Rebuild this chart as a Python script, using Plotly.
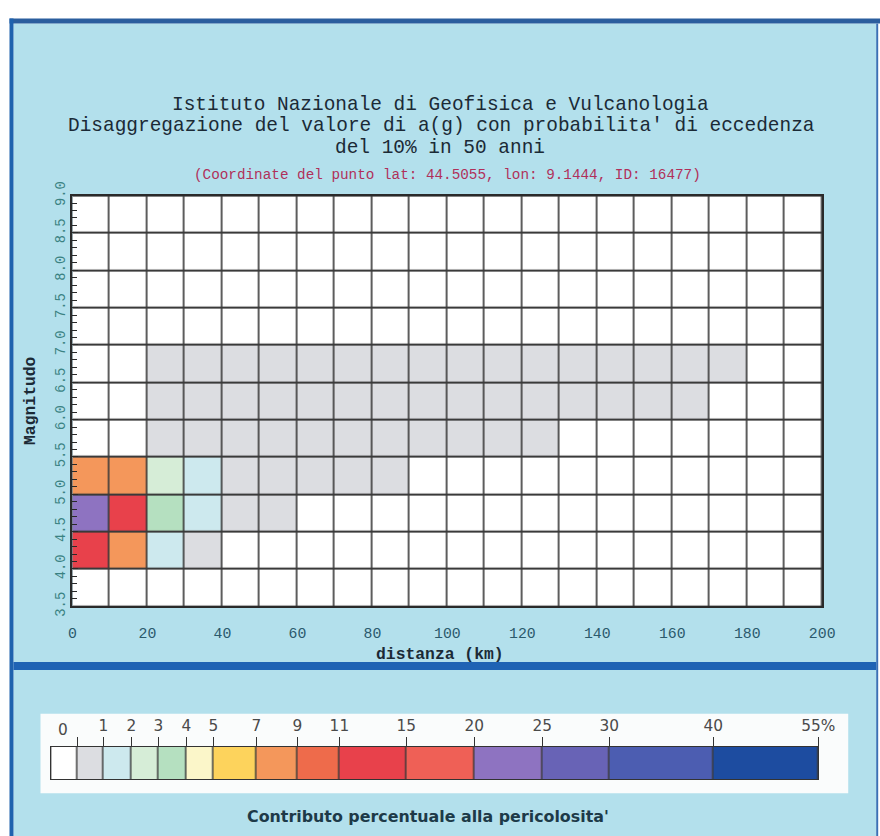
import plotly.graph_objects as go

# ---- data -------------------------------------------------------------
# distance bins (km) and magnitude bins: cell centres
distance_km = [5, 15, 25, 35, 45, 55, 65, 75, 85, 95,
               105, 115, 125, 135, 145, 155, 165, 175, 185, 195]
magnitude = [3.75, 4.25, 4.75, 5.25, 5.75, 6.25, 6.75, 7.25, 7.75, 8.25, 8.75]

# percentage contribution to the hazard, one row per magnitude bin
contrib_m375 = [0] * 20
contrib_m425 = [14.6, 8.2, 1.6, 0.5] + [0] * 16
contrib_m475 = [21.3, 12.9, 3.4, 1.3, 0.4, 0.2] + [0] * 14
contrib_m525 = [8.6, 7.9, 2.3, 1.1, 0.7, 0.5, 0.3, 0.2, 0.1] + [0] * 11
contrib_m575 = [0, 0, 0.8, 0.6, 0.5, 0.4, 0.3, 0.25, 0.2, 0.15, 0.1, 0.1, 0.05] + [0] * 7
contrib_m625 = [0, 0, 0.9, 0.8, 0.7, 0.6, 0.5, 0.45, 0.4, 0.35, 0.3, 0.25, 0.2,
                0.15, 0.1, 0.1, 0.05, 0, 0, 0]
contrib_m675 = [0, 0, 0.7, 0.6, 0.6, 0.5, 0.45, 0.4, 0.35, 0.3, 0.3, 0.25, 0.2,
                0.2, 0.15, 0.1, 0.1, 0.05, 0, 0]
contrib_m725 = [0] * 20
contrib_m775 = [0] * 20
contrib_m825 = [0] * 20
contrib_m875 = [0] * 20

contribution = [contrib_m375, contrib_m425, contrib_m475, contrib_m525,
                contrib_m575, contrib_m625, contrib_m675, contrib_m725,
                contrib_m775, contrib_m825, contrib_m875]

x_ticks = [0, 20, 40, 60, 80, 100, 120, 140, 160, 180, 200]
y_ticks = [3.5, 4.0, 4.5, 5.0, 5.5, 6.0, 6.5, 7.0, 7.5, 8.0, 8.5, 9.0]

# colour classes of the contribution (%)
bin_edges = [0, 1, 2, 3, 4, 5, 7, 9, 11, 15, 20, 25, 30, 40, 55]
bin_colors = ["#dcdde1", "#cde9ee", "#d6edd7", "#b5e0c0", "#fbf6c9",
              "#fdd35c", "#f4975b", "#ee6b4b", "#e8414b", "#ef6056",
              "#8e73c1", "#6863b6", "#4c5db1", "#1d4ca0"]
zero_color = "#ffffff"

# ---- styling -----------------------------------------------------------
# positions below are given on an 880x836 design grid; GRID_SCALE and
# GRID_OFFSET convert them to figure pixels
W, H = 900, 846
GRID_SCALE = 0.977
GRID_OFFSET_X, GRID_OFFSET_Y = 3.5, 11.4
FONT_MONO = "Liberation Mono"
FONT_SANS = "DejaVu Sans"
# drawn widths of the legend classes: "0", 0-1, 1-2, ... 40-55
legend_widths = [26, 26, 28, 27, 28, 27, 43, 41, 42, 67, 68, 68, 67, 104, 105]


def fx(px):
    """design-grid column -> paper x"""
    return ((px - GRID_OFFSET_X) / GRID_SCALE) / W


def fy(py):
    """design-grid row -> paper y"""
    return 1 - ((py - GRID_OFFSET_Y) / GRID_SCALE) / H


def fs(size):
    """design-grid length -> figure pixels"""
    return size / GRID_SCALE


zmax = bin_edges[-1]
eps = 1e-4
colorscale = [[0, zero_color], [eps, zero_color]]
for i, c in enumerate(bin_colors):
    lo = bin_edges[i] / zmax if i > 0 else eps
    hi = bin_edges[i + 1] / zmax
    colorscale += [[lo, c], [hi, c]]

fig = go.Figure()

fig.add_trace(go.Heatmap(
    x=distance_km, y=magnitude, z=contribution,
    colorscale=colorscale, zmin=0, zmax=zmax, showscale=False,
    xgap=fs(1.6), ygap=fs(2), hoverinfo="skip",
    xaxis="x", yaxis="y",
))

# legend bar drawn with the same colour scale
legend_vals = [0] + [(bin_edges[i] + bin_edges[i + 1]) / 2 for i in range(len(bin_edges) - 1)]
legend_x = [0]
for w in legend_widths:
    legend_x.append(legend_x[-1] + w)

fig.add_trace(go.Heatmap(
    x=legend_x, y=[0, 1], z=[legend_vals],
    colorscale=colorscale, zmin=0, zmax=zmax, showscale=False,
    xgap=fs(1.4), hoverinfo="skip",
    xaxis="x2", yaxis="y2",
))

legend_ticktext = [""] + [str(e) for e in bin_edges[1:-1]] + [f"{bin_edges[-1]}%"]

frame = "#2a2a2a"
grid_color = "#3a3a3a"
PLOT_L, PLOT_R, PLOT_T, PLOT_B = 72, 822, 194, 607
LEG_L, LEG_R, LEG_T, LEG_B = 51, 818, 748, 781

fig.update_layout(
    width=W, height=H, autosize=False,
    margin=dict(l=0, r=0, t=0, b=0),
    paper_bgcolor="#ffffff", plot_bgcolor=grid_color,
    showlegend=False,
    xaxis=dict(
        domain=[fx(PLOT_L), fx(PLOT_R)], anchor="y", range=[0, 200],
        tickvals=x_ticks, ticks="", showgrid=False, zeroline=False,
        showline=True, mirror=True, linecolor=frame, linewidth=fs(1.5),
        tickfont=dict(family=FONT_MONO, size=fs(14.5), color="#2b5a6c"),
        ticklabelstandoff=round(fs(12)), fixedrange=True,
    ),
    yaxis=dict(
        domain=[fy(PLOT_B), fy(PLOT_T)], anchor="x", range=[3.5, 9.0],
        tickvals=y_ticks, tickformat=".1f", tickangle=-90,
        ticks="inside", ticklen=fs(6), tickcolor=frame,
        minor=dict(dtick=0.1, ticks="inside", ticklen=fs(5), tickcolor=frame),
        showgrid=False, zeroline=False,
        showline=True, mirror=True, linecolor=frame, linewidth=fs(1.5),
        tickfont=dict(family=FONT_MONO, size=fs(13.5), color="#3a8282"),
        fixedrange=True,
    ),
    xaxis2=dict(
        domain=[fx(LEG_L), fx(LEG_R)], anchor="y2", range=[0, legend_x[-1]],
        side="top", tickvals=legend_x[1:], ticktext=legend_ticktext,
        ticks="outside", ticklen=fs(8), tickcolor="#333333", tickwidth=1.2,
        showgrid=False, zeroline=False,
        showline=True, mirror=True, linecolor="#333333", linewidth=1,
        tickfont=dict(family=FONT_SANS, size=fs(15), color="#4a4a4a"),
        fixedrange=True,
    ),
    yaxis2=dict(
        domain=[fy(LEG_B), fy(LEG_T)], anchor="x2", range=[0, 1],
        showticklabels=False, ticks="", showgrid=False, zeroline=False,
        showline=True, mirror=True, linecolor="#333333", linewidth=1,
        fixedrange=True,
    ),
)

# page frame and panels (later entries are painted on top)
panels = [
    (13, 21, 876, 840, "#b3e0ec"),   # light blue page
    (9, 16, 884, 21, "#2b5e9e"),     # top border
    (9, 16, 13, 840, "#1f62ae"),     # left border
    (876, 21, 878, 840, "#3a70b5"),  # right border
    (13, 663, 876, 671, "#1f63b4"),  # separator between chart and legend
    (40, 715, 848, 795, "#fafcfc"),  # legend box
    (PLOT_L, PLOT_T, PLOT_R, PLOT_B, grid_color),  # grid lines behind the cells
    (LEG_L, LEG_T, LEG_R, LEG_B, grid_color),      # class separators
]
for x0, y0, x1, y1, col in panels:
    fig.add_shape(type="rect", xref="paper", yref="paper",
                  x0=fx(x0), x1=fx(x1), y0=fy(y1), y1=fy(y0),
                  fillcolor=col, line=dict(width=0), layer="below")

title_color = "#1b2a36"
texts = [
    ("Istituto Nazionale di Geofisica e Vulcanologia", 440, 102.5, FONT_MONO, 19, title_color, 0),
    ("Disaggregazione del valore di a(g) con probabilita' di eccedenza", 441, 124.5, FONT_MONO, 19, title_color, 0),
    ("del 10% in 50 anni", 440, 146.5, FONT_MONO, 19, title_color, 0),
    ("(Coordinate del punto lat: 44.5055, lon: 9.1444, ID: 16477)", 447, 173, FONT_MONO, 14, "#b0305a", 0),
    ("<b>distanza (km)</b>", 440, 655, FONT_MONO, 16, title_color, 0),
    ("<b>Magnitudo</b>", 30, 400, FONT_MONO, 16, title_color, -90),
    ("0", 63, 731, FONT_SANS, 15, "#4a4a4a", 0),
    ("<b>Contributo percentuale alla pericolosita'</b>", 428, 818, FONT_SANS, 15.5, "#1d3a48", 0),
]
for txt, px, py, fam, size, col, ang in texts:
    fig.add_annotation(text=txt, x=fx(px), y=fy(py), xref="paper", yref="paper",
                       xanchor="center", yanchor="middle", showarrow=False,
                       textangle=ang, font=dict(family=fam, size=fs(size), color=col))

fig.write_html("out.html")
